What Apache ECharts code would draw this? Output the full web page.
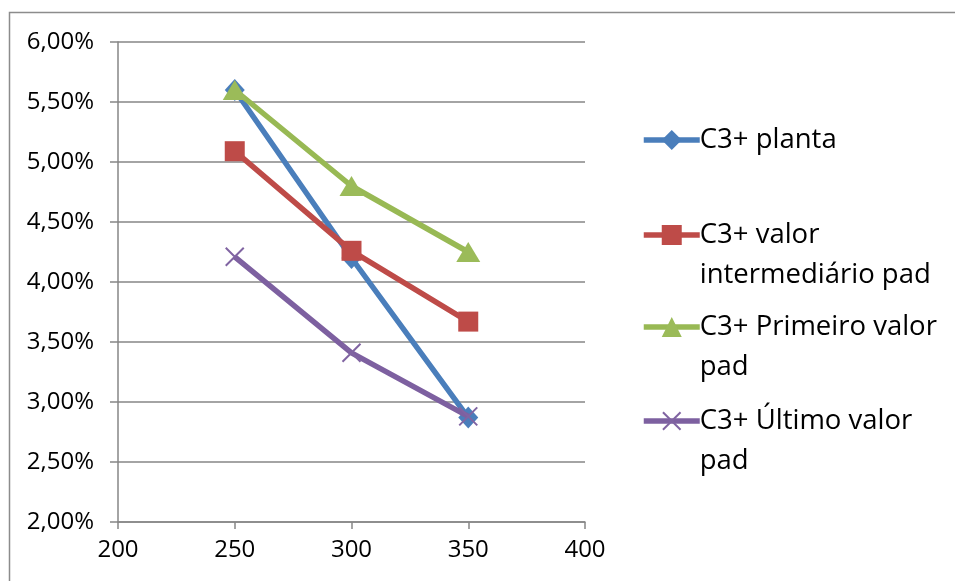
<!DOCTYPE html>
<html>
<head>
<meta charset="utf-8">
<script src="https://cdn.jsdelivr.net/npm/echarts@6/dist/echarts.min.js"></script>
<style>
  html, body { margin: 0; padding: 0; background: #fff; }
  #chart { width: 955px; height: 581px; }
</style>
</head>
<body>
<div id="chart"></div>
<script>
// Temperatures (x) and C3+ content (%) for each series
const xValues = [250, 300, 350];
const planta = [5.60, 4.20, 2.87];
const intermediario = [5.09, 4.26, 3.67];
const primeiro = [5.60, 4.80, 4.25];
const ultimo = [4.21, 3.41, 2.88];

const seriesNames = [
  'C3+ planta',
  'C3+ valor intermediário pad',
  'C3+ Primeiro valor pad',
  'C3+ Último valor pad'
];
// Legend text as wrapped in the legend box
const legendLabels = [
  'C3+ planta',
  'C3+ valor\nintermediário pad',
  'C3+ Primeiro valor\npad',
  'C3+ Último valor\npad'
];

const FONT = '"Open Sans", "Noto Sans", sans-serif';
const lineColors = ['#4A7EBB', '#BE4B48', '#98B954', '#7D60A0'];
const markerColors = ['#4A7EBB', '#BE4B48', '#9BBB59', '#8064A2'];
const symbols = ['diamond', 'rect', 'triangle', 'path://M0,0L10,10M10,0L0,10'];
const symbolSizes = [[20, 22], 20, [24, 20], 18];
const values = [planta, intermediario, primeiro, ultimo];

const pairs = arr => xValues.map((x, i) => [x, arr[i]]);

const markerStyle = k => (k === 3
  ? { color: markerColors[k], borderColor: markerColors[k], borderWidth: 2 }
  : { color: markerColors[k], borderWidth: 0 });

const series = values.map((arr, k) => ({
  name: seriesNames[k],
  type: 'line',
  data: pairs(arr),
  symbol: symbols[k],
  symbolSize: symbolSizes[k],
  showAllSymbol: true,
  z: 2 + k,
  lineStyle: { color: lineColors[k], width: 5.5 },
  itemStyle: markerStyle(k),
  emphasis: { disabled: true }
}));

// One legend block per series so each icon sits beside the first text line
const legendIconY = [140, 235, 327, 421];
const legendLineH = 40;
const legends = legendLabels.map((label, k) => {
  const lines = label.split('\n').length;
  // a leading blank line keeps the icon level with the first text line
  const text = lines > 1 ? '\n' + label : label;
  const blockH = (lines > 1 ? lines + 1 : lines) * legendLineH;
  return {
    data: [seriesNames[k]],
    orient: 'vertical',
    left: 641,
    top: legendIconY[k] - blockH / 2,
    padding: 0,
    itemWidth: 56,
    itemHeight: k === 3 ? 22 : 25,
    itemGap: 0,
    selectedMode: false,
    lineStyle: { color: lineColors[k], width: 5.5 },
    formatter: () => text,
    textStyle: {
      fontFamily: FONT,
      fontSize: 27.5,
      color: '#000',
      lineHeight: legendLineH,
      padding: [0, 0, 0, -5]
    }
  };
});

const chart = echarts.init(document.getElementById('chart'), null, { renderer: 'canvas' });
chart.setOption({
  backgroundColor: '#ffffff',
  animation: false,
  graphic: [{
    type: 'rect',
    shape: { x: 9.5, y: 12.5, width: 2000, height: 2000 },
    style: { fill: 'none', stroke: '#8c8c8c', lineWidth: 1.5 },
    silent: true,
    z: -1
  }],
  grid: { left: 118, right: 370, top: 42, bottom: 59 },
  legend: legends,
  xAxis: {
    type: 'value',
    min: 200,
    max: 400,
    interval: 50,
    axisLine: { show: true, lineStyle: { color: '#868686', width: 1.5 } },
    axisTick: { show: true, length: 7, lineStyle: { color: '#868686', width: 1.5 } },
    splitLine: { show: false },
    axisLabel: { fontFamily: FONT, fontSize: 24, color: '#000', margin: 16 }
  },
  yAxis: {
    type: 'value',
    min: 2,
    max: 6,
    interval: 0.5,
    axisLine: { show: true, lineStyle: { color: '#868686', width: 1.5 } },
    axisTick: { show: true, length: 8, lineStyle: { color: '#868686', width: 1.5 } },
    splitLine: { show: true, lineStyle: { color: '#868686', width: 1.5 } },
    axisLabel: {
      fontFamily: FONT,
      fontSize: 24,
      color: '#000',
      margin: 24,
      formatter: v => v.toFixed(2).replace('.', ',') + '%'
    }
  },
  series: series
});
</script>
</body>
</html>
